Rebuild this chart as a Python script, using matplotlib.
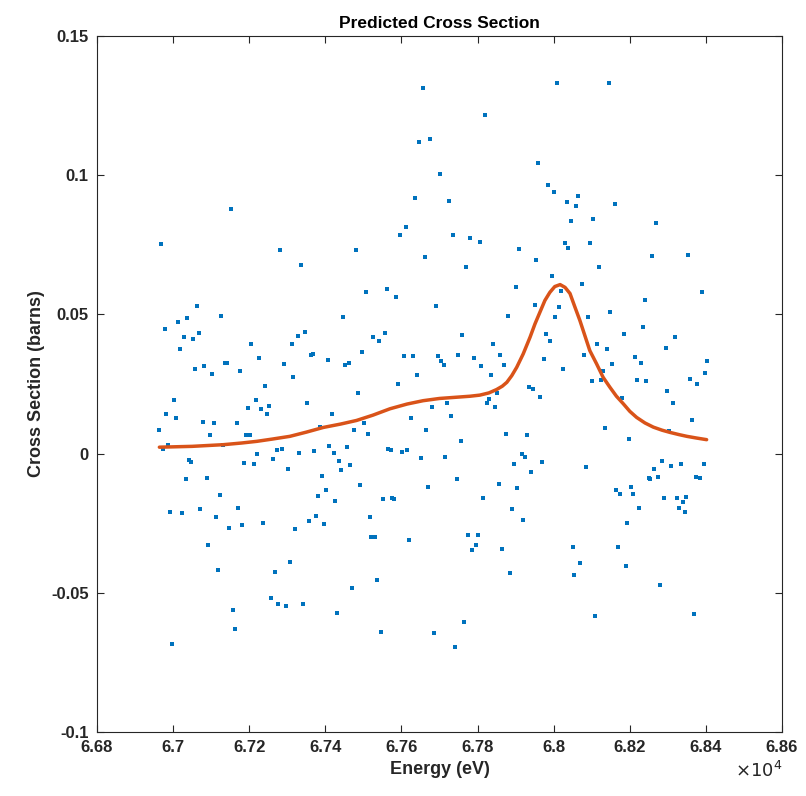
import matplotlib
matplotlib.use("Agg")
import matplotlib.pyplot as plt
from matplotlib.ticker import FuncFormatter, MultipleLocator

plt.rcParams['font.family'] = ['Liberation Sans', 'DejaVu Sans']

# measured points (energy in eV, cross section in barns)
energy_ev = [
    67152, 66968, 67282,
    67656, 67646, 67676, 67636, 67611, 67596, 67481, 67661, 67336,
    68010, 67820, 67960, 67701, 67985, 68001, 68035, 67726, 68046, 67735,
    67781, 67806, 67910, 68030, 68039, 67954, 67770,
    68145, 68065, 68059, 68160, 68104, 68269, 68095, 68259, 68354, 68119,
    67063, 67127, 66978, 67013, 67037, 67028, 67052, 67068, 67018, 67206,
    67226, 67312, 67136, 67143, 67058, 67082, 67102, 67177, 67291, 67316,
    67241, 67002, 67217, 66982, 67008, 67196, 67232, 67252, 67247, 66963,
    67078, 67107, 67167, 67098, 67192, 67202, 66973, 66987, 67132, 67042,
    67048, 67221, 67272, 67287, 67187, 67213, 67262, 67302,
    67506, 67561, 67586, 67446, 67327, 67347, 67526, 67541, 67557, 67362,
    67367, 67496, 67406, 67452, 67461, 67606, 67631, 67641, 67591, 67487,
    67351, 67417, 67681, 67625, 67387, 67502, 67476, 67511, 67665, 67332,
    67371, 67411, 67422, 67456, 67566, 67572, 67601, 67615, 67437, 67466,
    67651, 67441,
    67996, 67900, 67691, 68019, 67950, 68015, 67880, 68004, 67760, 67980,
    67990, 67840, 67695, 67705, 67711, 67750, 67790, 67810, 67860, 67869,
    67975, 68025, 67835, 67934, 67945, 67965, 67850, 67830, 67826, 67845,
    67720, 67731, 67876, 67930, 67756, 67714, 67916, 67925, 67895, 67969,
    68074, 68389, 68239, 68149, 68089, 68234, 68184, 68319, 68115, 68139,
    68294, 68079, 68214, 68229, 68154, 68404, 68398, 68129, 68100, 68124,
    68219, 68244, 68358, 68378, 68299, 68179, 68314, 68363, 68134, 68199,
    68302, 68084, 68264, 68284, 68309, 68334, 68394,
    67033, 67088, 67122, 66993, 67023, 67072, 67171, 67113, 67147, 67182,
    67237, 67321, 67092, 67117, 67267, 67307, 67257, 67276, 67297, 67157,
    67163, 66998,
    67391, 67491, 67402, 67382, 67426, 67551, 67576, 67581, 67671, 67376,
    67356, 67396, 67517, 67521, 67531, 67621, 67536, 67470, 67341, 67431,
    67546, 67686,
    67940, 67746, 67856, 67905, 67815, 67890, 67919, 67775, 67800, 67795,
    67785, 67865, 67885, 68050, 68053, 67765, 67741,
    68250, 68254, 68274, 68374, 68384, 68204, 68165, 68174, 68209, 68289,
    68324, 68349, 68339, 68329, 68344, 68224, 68194, 68170, 68070, 68189,
    68279, 68109, 68369,
]
cross_section = [
    0.0879, 0.0753, 0.0732,
    0.1312, 0.1118, 0.1129, 0.0918, 0.0815, 0.0784, 0.0733, 0.0705, 0.0679,
    0.1331, 0.1217, 0.1044, 0.1006, 0.0963, 0.0938, 0.0902, 0.0909, 0.0834, 0.0784,
    0.0776, 0.0759, 0.0736, 0.0757, 0.0737, 0.0694, 0.0669,
    0.1331, 0.0924, 0.0891, 0.0896, 0.0844, 0.0829, 0.0758, 0.0711, 0.0714, 0.0669,
    0.0529, 0.0493, 0.0449, 0.0472, 0.0487, 0.0420, 0.0413, 0.0432, 0.0375, 0.0395,
    0.0342, 0.0393, 0.0324, 0.0324, 0.0303, 0.0315, 0.0287, 0.0298, 0.0323, 0.0275,
    0.0243, 0.0193, 0.0194, 0.0144, 0.0127, 0.0165, 0.0160, 0.0170, 0.0141, 0.0086,
    0.0115, 0.0110, 0.0110, 0.0068, 0.0068, 0.0068, 0.0017, 0.0030, 0.0032, -0.0024,
    -0.0030, 0.0000, 0.0014, 0.0017, -0.0035, -0.0037, -0.0019, -0.0054,
    0.0581, 0.0590, 0.0561, 0.0492, 0.0424, 0.0438, 0.0418, 0.0406, 0.0433, 0.0354,
    0.0357, 0.0366, 0.0336, 0.0319, 0.0327, 0.0352, 0.0350, 0.0283, 0.0250, 0.0219,
    0.0183, 0.0143, 0.0169, 0.0129, 0.0097, 0.0110, 0.0086, 0.0069, 0.0083, 0.0001,
    0.0011, 0.0028, 0.0003, 0.0025, 0.0017, 0.0014, 0.0005, 0.0014, -0.0025, -0.0041,
    -0.0017, -0.0059,
    0.0637, 0.0600, 0.0530, 0.0585, 0.0532, 0.0528, 0.0495, 0.0492, 0.0426, 0.0429,
    0.0405, 0.0394, 0.0351, 0.0332, 0.0320, 0.0354, 0.0342, 0.0313, 0.0354, 0.0320,
    0.0339, 0.0303, 0.0281, 0.0240, 0.0231, 0.0204, 0.0219, 0.0196, 0.0181, 0.0169,
    0.0180, 0.0136, 0.0072, 0.0065, 0.0047, -0.0013, -0.0003, -0.0011, -0.0036, -0.0030,
    0.0610, 0.0581, 0.0553, 0.0508, 0.0489, 0.0456, 0.0430, 0.0420, 0.0393, 0.0375,
    0.0378, 0.0353, 0.0348, 0.0324, 0.0322, 0.0334, 0.0291, 0.0298, 0.0260, 0.0265,
    0.0266, 0.0262, 0.0267, 0.0249, 0.0225, 0.0198, 0.0181, 0.0120, 0.0093, 0.0054,
    0.0081, -0.0047, -0.0055, -0.0026, -0.0043, -0.0036, -0.0036,
    -0.0091, -0.0087, -0.0150, -0.0210, -0.0214, -0.0198, -0.0195, -0.0229, -0.0269, -0.0257,
    -0.0251, -0.0272, -0.0328, -0.0418, -0.0426, -0.0390, -0.0520, -0.0540, -0.0548, -0.0560,
    -0.0631, -0.0684,
    -0.0081, -0.0114, -0.0130, -0.0152, -0.0172, -0.0164, -0.0159, -0.0162, -0.0121, -0.0223,
    -0.0241, -0.0253, -0.0229, -0.0298, -0.0301, -0.0309, -0.0454, -0.0483, -0.0541, -0.0571,
    -0.0641, -0.0645,
    -0.0066, -0.0093, -0.0110, -0.0123, -0.0158, -0.0199, -0.0237, -0.0291, -0.0291, -0.0328,
    -0.0347, -0.0341, -0.0430, -0.0334, -0.0435, -0.0606, -0.0693,
    -0.0089, -0.0091, -0.0085, -0.0084, -0.0087, -0.0119, -0.0130, -0.0145, -0.0145, -0.0159,
    -0.0158, -0.0157, -0.0175, -0.0195, -0.0208, -0.0195, -0.0250, -0.0334, -0.0394, -0.0402,
    -0.0471, -0.0582, -0.0575,
]

# predicted curve
fit_energy_ev = [
    66964, 67050, 67132, 67180, 67220, 67260, 67307, 67350, 67395, 67440,
    67482, 67525, 67570, 67615, 67657, 67700, 67740, 67780, 67806, 67830,
    67850, 67865, 67877, 67890, 67903, 67920, 67938, 67951, 67964, 67977,
    67990, 68003, 68017, 68030, 68043, 68056, 68069, 68082, 68095, 68113,
    68130, 68148, 68165, 68183, 68200, 68218, 68240, 68262, 68285, 68306,
    68330, 68350, 68375, 68402,
]
fit_cross_section = [
    0.0023, 0.0026, 0.0032, 0.0038, 0.0044, 0.0052, 0.0062, 0.0077, 0.0094, 0.0106,
    0.0119, 0.0138, 0.0161, 0.0178, 0.0190, 0.0198, 0.0202, 0.0206, 0.0210, 0.0218,
    0.0230, 0.0242, 0.0256, 0.0280, 0.0310, 0.0358, 0.0418, 0.0466, 0.0508, 0.0550,
    0.0579, 0.0600, 0.0607, 0.0597, 0.0575, 0.0526, 0.0478, 0.0424, 0.0370, 0.0322,
    0.0274, 0.0238, 0.0206, 0.0179, 0.0152, 0.0130, 0.0110, 0.0095, 0.0084, 0.0076,
    0.0068, 0.0062, 0.0056, 0.0050,
]

text_color = '#262626'

fig = plt.figure(figsize=(8.06, 7.96), dpi=100)
ax = fig.add_axes([0.1203, 0.0804, 0.8499, 0.8744])

ax.scatter(energy_ev, cross_section, s=7, marker='s', color='#0072BD', linewidths=0)
ax.plot(fit_energy_ev, fit_cross_section, color='#D95319', linewidth=2.5,
        solid_joinstyle='round', solid_capstyle='round')

ax.set_xlim(66800, 68600)
ax.set_ylim(-0.1, 0.15)
ax.xaxis.set_major_locator(MultipleLocator(200))
ax.yaxis.set_major_locator(MultipleLocator(0.05))
ax.xaxis.set_major_formatter(FuncFormatter(lambda v, p: f"{v / 1e4:.2f}".rstrip('0').rstrip('.')))
ax.yaxis.set_major_formatter(FuncFormatter(lambda v, p: f"{round(v, 4):g}".replace('\u2212', '-')))

ax.tick_params(direction='in', length=5, width=0.8, top=True, right=True,
               labelsize=12, colors=text_color, pad=6)
for lbl in ax.get_xticklabels() + ax.get_yticklabels():
    lbl.set_fontweight('bold')
for side in ax.spines.values():
    side.set_color(text_color)
    side.set_linewidth(0.8)

ax.set_title("Predicted Cross Section", fontsize=12.5, fontweight='bold', pad=6)
ax.set_xlabel("Energy (eV)", fontsize=13, fontweight='bold', color=text_color, labelpad=4)
ax.set_ylabel("Cross Section (barns)", fontsize=13, fontweight='bold', color=text_color, labelpad=4)
ax.text(1.0, -0.042, r"$\times10^{4}$", transform=ax.transAxes, ha='right', va='top',
        fontsize=13, color=text_color)

plt.savefig("out.png", dpi=100)
plt.close()
